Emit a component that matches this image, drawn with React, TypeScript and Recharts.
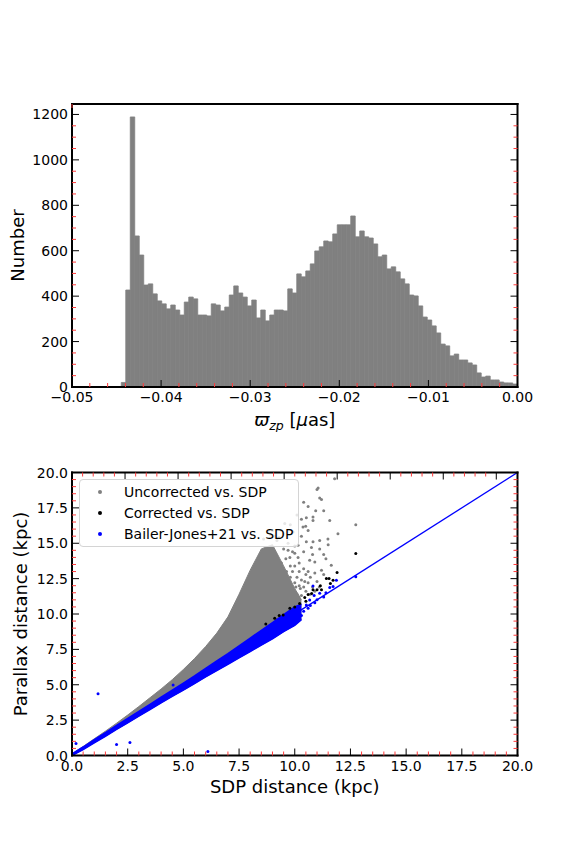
import React from 'react';
import {
  ComposedChart,
  BarChart,
  Bar,
  Area,
  Scatter,
  XAxis,
  YAxis,
  ReferenceLine,
  Legend,
} from 'recharts';

const FONT = '"DejaVu Sans", sans-serif';
const W = 576;
const H = 432;

// ---- top panel: histogram of the zero-point offset ----
const binStart = -0.04447;
const binWidth = 0.000505;
const zpCounts = [
  20, 427, 1189, 665, 581, 449, 454, 410, 379, 366,
  344, 361, 339, 317, 374, 396, 388, 317, 317, 313,
  366, 361, 335, 352, 405, 445, 414, 396, 357, 383,
  304, 339, 291, 317, 339, 339, 335, 432, 414, 498,
  485, 511, 542, 599, 617, 643, 639, 674, 714, 714,
  714, 753, 661, 687, 661, 656, 630, 573, 581, 520,
  529, 507, 476, 454, 405, 401, 357, 308, 295, 269,
  238, 189, 181, 137, 145, 119, 119, 106, 97, 62,
  44, 48, 31, 31, 22, 18, 18, 13,
];
const histXTicks = [-0.05, -0.04, -0.03, -0.02, -0.01, 0];
const histXLabels = ['\u22120.05', '\u22120.04', '\u22120.03', '\u22120.02', '\u22120.01', '0.00'];
const histYTicks = [0, 200, 400, 600, 800, 1000, 1200];
const histYLabels = ['0', '200', '400', '600', '800', '1000', '1200'];

// ---- bottom panel: distance comparison ----
const distTicks = [0, 2.5, 5, 7.5, 10, 12.5, 15, 17.5, 20];
const distLabels = ['0.0', '2.5', '5.0', '7.5', '10.0', '12.5', '15.0', '17.5', '20.0'];

// dense part of the clouds, as envelopes along SDP distance
const bandX = [0, 0.5, 1, 1.5, 2, 2.5, 3, 3.5, 4, 4.5, 5, 5.5, 6, 6.5, 7, 7.5, 8, 8.5, 9, 9.5, 10, 10.3];
const blueLo = [0, 0.42, 0.9, 1.36, 1.84, 2.3, 2.78, 3.25, 3.72, 4.18, 4.62, 5.08, 5.55, 6.0, 6.45, 6.9, 7.35, 7.8, 8.25, 8.75, 9.2, 9.6];
const blueHi = [0.12, 0.6, 1.12, 1.62, 2.12, 2.62, 3.12, 3.62, 4.12, 4.62, 5.12, 5.62, 6.15, 6.68, 7.2, 7.75, 8.3, 8.85, 9.4, 9.95, 10.5, 10.7];
const grayHi = [0.12, 0.64, 1.18, 1.72, 2.28, 2.86, 3.46, 4.08, 4.7, 5.36, 6.08, 6.85, 7.7, 8.65, 9.8, 11.4, 13.1, 14.6, 14.9, 13.4, 11.8, 11.0];

// sparse points
const grayPts: [number, number][] = [
  [11.79, 19.55], [11.05, 18.9], [11.0, 18.8], [11.2, 18.1], [11.12, 18.2], [10.94, 17.3],
  [11.57, 16.6], [12.74, 16.3], [10.82, 16.85], [10.82, 16.6], [10.52, 16.8], [10.3, 16.7],
  [11.94, 15.68], [10.37, 16.15], [10.49, 16.2], [11.49, 15.3], [11.12, 15.2], [10.82, 15.1],
  [10.52, 15.1], [11.12, 14.6], [10.75, 14.7], [11.64, 13.45], [11.2, 13.1], [10.9, 13.68],
  [10.67, 13.8], [10.15, 14.0], [9.93, 15.8], [10.15, 14.85], [9.78, 14.0], [9.63, 13.0],
  [9.4, 13.6], [9.5, 12.8], [9.6, 12.2], [9.7, 11.8], [9.8, 12.6], [9.9, 11.5], [10.0, 12.2],
  [10.1, 11.4], [10.2, 13.0], [10.3, 12.4], [10.4, 11.9], [10.5, 12.8], [10.6, 12.2],
  [10.7, 12.6], [10.8, 11.9], [10.9, 12.9], [11.0, 12.3], [11.3, 12.8], [11.4, 13.9],
  [10.0, 13.4], [9.9, 14.4], [9.5, 14.6], [9.2, 15.2], [9.1, 15.5], [8.9, 15.6], [9.3, 15.4],
  [9.7, 15.0], [10.3, 15.5], [10.6, 15.9], [9.6, 13.9], [10.4, 14.4], [11.3, 14.2],
  [10.2, 12.0], [9.9, 13.0], [10.1, 12.6], [10.3, 11.3], [10.5, 11.6], [10.9, 11.6], [11.1, 11.9],
  [8.6, 15.3], [8.8, 15.8], [9.0, 15.9], [9.4, 15.9], [9.7, 14.5], [9.8, 13.4], [10.0, 14.3],
  [10.6, 17.6], [10.1, 17.0], [9.8, 16.3], [10.0, 14.8], [10.2, 13.6], [10.4, 13.2],
  [10.6, 13.0], [10.8, 14.2], [10.7, 11.4], [10.45, 12.3], [10.25, 11.8], [10.05, 11.9],
  [9.55, 16.4], [11.5, 14.9], [11.3, 17.3], [10.4, 17.9],
];
const blackPts: [number, number][] = [
  [8.7, 9.3], [9.1, 9.7], [9.3, 9.9], [9.48, 9.93], [9.78, 10.4], [10.0, 10.5], [10.22, 10.75],
  [10.45, 11.16], [10.5, 10.9], [10.6, 11.37], [10.76, 11.45], [10.82, 11.72], [11.0, 11.72],
  [11.15, 11.99], [11.2, 11.72], [11.42, 12.51], [11.54, 12.51], [11.6, 12.16], [11.72, 12.39],
  [11.9, 12.93], [12.74, 14.27],
];
const bluePts: [number, number][] = [
  [1.17, 4.37], [2.0, 0.77], [2.6, 0.92], [6.1, 0.28], [0.18, 0.85], [4.54, 4.98],
  [12.74, 12.63], [11.87, 12.39], [11.57, 11.87], [11.72, 11.95], [10.82, 11.97], [11.12, 11.46],
  [10.87, 11.3], [10.67, 10.99], [10.52, 10.63], [10.22, 10.28], [9.4, 9.1], [9.6, 9.3],
  [9.8, 9.4], [9.9, 9.2], [10.0, 9.5], [10.1, 9.8], [10.3, 9.9], [10.4, 10.2], [10.6, 10.4],
  [10.7, 10.6], [10.9, 10.8], [11.0, 11.0], [11.3, 11.2], [11.4, 11.5],
];
const oneToOne = [{ x: 0, y: 0 }, { x: 20, y: 20 }];

const legendItems = [
  { label: 'Uncorrected vs. SDP', color: '#808080' },
  { label: 'Corrected vs. SDP', color: '#000000' },
  { label: 'Bailer-Jones+21 vs. SDP', color: '#0000ff' },
];

// major ticks plus n-1 minor ticks in between, clipped to max
const withMinors = (majors: number[], n: number, max: number) => {
  const out: number[] = [];
  const step = majors[1] - majors[0];
  for (let i = 0; i < majors.length; i++) {
    for (let k = 0; k < n; k++) {
      const v = majors[i] + (k * step) / n;
      if (v <= max + 1e-9) out.push(+v.toFixed(6));
    }
  }
  return out;
};

const makeTick = (side: string, majors: number[], labels?: string[]) => (props: any) => {
  const { x, y, payload } = props;
  const idx = majors.findIndex((m) => Math.abs(m - payload.value) < 1e-7);
  const major = idx >= 0;
  const len = major ? 7 : 4;
  let x2 = x;
  let y2 = y;
  if (side === 'bottom') y2 = y - len;
  if (side === 'top') y2 = y + len;
  if (side === 'left') x2 = x + len;
  if (side === 'right') x2 = x - len;
  return (
    <g>
      <line x1={x} y1={y} x2={x2} y2={y2} stroke={major ? '#000' : '#ff3b3b'} strokeWidth={1} />
      {major && labels && side === 'bottom' && (
        <text x={x} y={y + 15} textAnchor="middle" fontSize={14} fontFamily={FONT} fill="#000">
          {labels[idx]}
        </text>
      )}
      {major && labels && side === 'left' && (
        <text x={x - 4} y={y} dy="0.36em" textAnchor="end" fontSize={14} fontFamily={FONT} fill="#000">
          {labels[idx]}
        </text>
      )}
    </g>
  );
};

const frame = { stroke: '#000', strokeWidth: 2, strokeLinecap: 'square' as const };

const dot = (color: string) => (p: any) => <circle cx={p.cx} cy={p.cy} r={1.5} fill={color} />;

const LegendBox = () => (
  <div
    style={{
      position: 'relative',
      width: 220,
      height: 68,
      boxSizing: 'border-box',
      border: '1px solid #d4d4d4',
      borderRadius: 4,
      background: 'rgba(255,255,255,0.8)',
      fontFamily: FONT,
      fontSize: 14,
    }}
  >
    {legendItems.map((it, i) => (
      <div key={it.label} style={{ position: 'absolute', left: 0, top: 3 + i * 21, height: 18, width: 220 }}>
        <span
          style={{
            position: 'absolute', left: 18, top: 7, width: 4, height: 4,
            borderRadius: 2, background: it.color,
          }}
        />
        <span style={{ position: 'absolute', left: 44, top: 0, lineHeight: '18px', whiteSpace: 'nowrap' }}>
          {it.label}
        </span>
      </div>
    ))}
  </div>
);

export default function App() {
  const histData = zpCounts.map((n, i) => ({ x: binStart + (i + 0.5) * binWidth, n }));
  const envData = bandX.map((x, i) => ({
    x,
    gray: [blueLo[i], grayHi[i]],
    blue: [blueLo[i], blueHi[i]],
  }));
  const histXAll = withMinors(histXTicks, 5, 0);
  const histYAll = withMinors(histYTicks, 4, 1246);
  const distAll = withMinors(distTicks, 5, 20);
  // bar width just under the bin spacing in pixels (Recharts shrinks bars that reach it)
  const barPx = (binWidth / 0.05) * 445.5 * 0.995;

  return (
    <div style={{ position: 'absolute', left: 0, top: 0, width: W, height: 864, background: '#fff' }}>
      <BarChart
        width={W}
        height={H}
        data={histData}
        barGap={0}
        margin={{ top: 100, right: 54.5, bottom: 0, left: 0 }}
      >
        <XAxis
          dataKey="x"
          type="number"
          domain={[-0.05, 0]}
          allowDataOverflow
          ticks={histXAll}
          interval={0}
          height={45}
          tickSize={0}
          tickMargin={0}
          tickLine={false}
          axisLine={frame}
          tick={makeTick('bottom', histXTicks, histXLabels)}
          label={(p: any) => {
            const vb = p.viewBox;
            return (
              <text x={vb.x + vb.width / 2} y={vb.y + 39} textAnchor="middle" fontSize={18} fontFamily={FONT} fill="#000">
                <tspan fontStyle="italic">{'\u03d6'}</tspan>
                <tspan fontStyle="italic" fontSize={12.5} dy={4}>zp</tspan>
                <tspan dy={-4}> [</tspan>
                <tspan fontStyle="italic">{'\u03bc'}</tspan>
                <tspan>as]</tspan>
              </text>
            );
          }}
        />
        <XAxis
          xAxisId="top"
          orientation="top"
          type="number"
          domain={[-0.05, 0]}
          allowDataOverflow
          ticks={histXAll}
          interval={0}
          height={4}
          tickSize={0}
          tickMargin={0}
          tickLine={false}
          axisLine={frame}
          tick={makeTick('top', histXTicks)}
        />
        <YAxis
          type="number"
          domain={[0, 1246]}
          allowDataOverflow
          ticks={histYAll}
          interval={0}
          width={72}
          tickSize={0}
          tickMargin={0}
          tickLine={false}
          axisLine={frame}
          tick={makeTick('left', histYTicks, histYLabels)}
          label={(p: any) => {
            const vb = p.viewBox;
            const cy = vb.y + vb.height / 2;
            return (
              <text x={17} y={cy} transform={`rotate(-90 17 ${cy})`} textAnchor="middle" dominantBaseline="central" fontSize={18} fontFamily={FONT} fill="#000">
                Number
              </text>
            );
          }}
        />
        <YAxis
          yAxisId="right"
          orientation="right"
          type="number"
          domain={[0, 1246]}
          allowDataOverflow
          ticks={histYAll}
          interval={0}
          width={4}
          tickSize={0}
          tickMargin={0}
          tickLine={false}
          axisLine={frame}
          tick={makeTick('right', histYTicks)}
        />
        <Bar dataKey="n" fill="#808080" stroke="#808080" strokeWidth={0.8} barSize={barPx} isAnimationActive={false} />
      </BarChart>

      <ComposedChart
        width={W}
        height={H}
        data={envData}
        margin={{ top: 36.5, right: 54.5, bottom: 63.5, left: 0 }}
      >
        <XAxis
          dataKey="x"
          type="number"
          domain={[0, 20]}
          allowDataOverflow
          ticks={distAll}
          interval={0}
          height={45}
          tickSize={0}
          tickMargin={0}
          tickLine={false}
          axisLine={frame}
          tick={makeTick('bottom', distTicks, distLabels)}
          label={(p: any) => {
            const vb = p.viewBox;
            return (
              <text x={vb.x + vb.width / 2} y={vb.y + 37} textAnchor="middle" fontSize={18} fontFamily={FONT} fill="#000">
                SDP distance (kpc)
              </text>
            );
          }}
        />
        <XAxis
          xAxisId="top"
          orientation="top"
          type="number"
          domain={[0, 20]}
          allowDataOverflow
          ticks={distAll}
          interval={0}
          height={4}
          tickSize={0}
          tickMargin={0}
          tickLine={false}
          axisLine={frame}
          tick={makeTick('top', distTicks)}
        />
        <YAxis
          dataKey="y"
          type="number"
          domain={[0, 20]}
          allowDataOverflow
          ticks={distAll}
          interval={0}
          width={72}
          tickSize={0}
          tickMargin={0}
          tickLine={false}
          axisLine={frame}
          tick={makeTick('left', distTicks, distLabels)}
          label={(p: any) => {
            const vb = p.viewBox;
            const cy = vb.y + vb.height / 2;
            return (
              <text x={20} y={cy} transform={`rotate(-90 20 ${cy})`} textAnchor="middle" dominantBaseline="central" fontSize={18} fontFamily={FONT} fill="#000">
                Parallax distance (kpc)
              </text>
            );
          }}
        />
        <YAxis
          yAxisId="right"
          orientation="right"
          type="number"
          domain={[0, 20]}
          allowDataOverflow
          ticks={distAll}
          interval={0}
          width={4}
          tickSize={0}
          tickMargin={0}
          tickLine={false}
          axisLine={frame}
          tick={makeTick('right', distTicks)}
        />
        <Area type="linear" dataKey="gray" fill="#808080" fillOpacity={1} stroke="#808080" strokeWidth={1} isAnimationActive={false} />
        <Scatter name="Uncorrected vs. SDP" data={grayPts.map(([x, y]) => ({ x, y }))} shape={dot('#808080')} isAnimationActive={false} />
        <Scatter name="Corrected vs. SDP" data={blackPts.map(([x, y]) => ({ x, y }))} shape={dot('#000000')} isAnimationActive={false} />
        <Area type="linear" dataKey="blue" fill="#0000ff" fillOpacity={1} stroke="#0000ff" strokeWidth={1.5} isAnimationActive={false} />
        <Scatter name="Bailer-Jones+21 vs. SDP" data={bluePts.map(([x, y]) => ({ x, y }))} shape={dot('#0000ff')} isAnimationActive={false} />
        <ReferenceLine segment={oneToOne} stroke="#0000ff" strokeWidth={1.3} ifOverflow="visible" />
        <Legend
          layout="vertical"
          align="center"
          verticalAlign="middle"
          wrapperStyle={{ left: 79, top: 47, width: 220, height: 68 }}
          content={() => <LegendBox />}
        />
      </ComposedChart>
    </div>
  );
}
